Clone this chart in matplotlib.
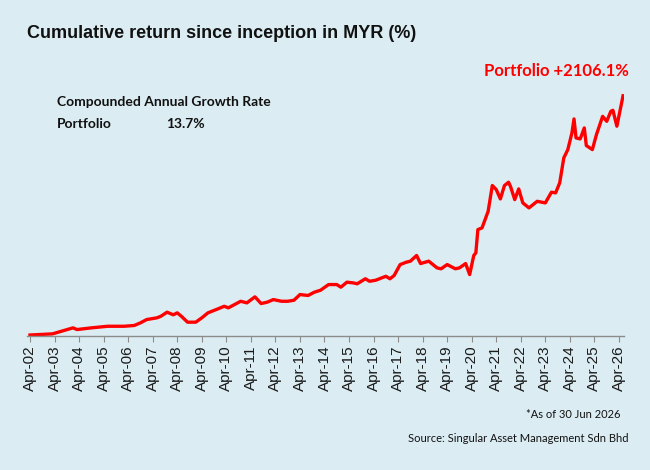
import matplotlib
matplotlib.use("Agg")
import matplotlib.pyplot as plt
import pandas as pd

months = ["2002-04", "2003-03", "2004-01", "2004-03", "2004-10", "2005-06", "2006-02", "2006-07",
          "2006-10", "2007-01", "2007-06", "2007-08", "2007-11", "2008-02", "2008-04", "2008-06",
          "2008-09", "2009-01", "2009-04", "2009-07", "2009-12", "2010-03", "2010-05", "2010-08",
          "2010-11", "2011-02", "2011-06", "2011-09", "2011-12", "2012-03", "2012-07", "2012-10",
          "2013-01", "2013-04", "2013-08", "2013-11", "2014-02", "2014-06", "2014-10", "2014-12",
          "2015-03", "2015-06", "2015-08", "2015-12", "2016-02", "2016-05", "2016-10", "2016-12",
          "2017-02", "2017-05", "2017-08", "2017-10", "2018-01", "2018-03", "2018-07", "2018-11",
          "2019-01", "2019-04", "2019-08", "2019-10", "2020-01", "2020-03", "2020-05", "2020-06",
          "2020-07", "2020-09", "2020-12", "2021-02", "2021-04", "2021-06", "2021-08", "2021-10",
          "2021-11", "2022-01", "2022-03", "2022-05", "2022-08", "2022-12", "2023-04", "2023-07",
          "2023-09", "2023-11", "2024-01", "2024-03", "2024-05", "2024-06", "2024-07", "2024-09",
          "2024-11", "2024-12", "2025-03", "2025-05", "2025-08", "2025-10", "2025-12", "2026-01",
          "2026-03", "2026-06"]
portfolio = [0, 10, 63, 48, 63, 77, 77, 84,
             107, 136, 151, 165, 201, 178, 195, 165,
             113, 113, 151, 195, 231, 253, 239, 268,
             297, 283, 336, 277, 289, 312, 297, 297,
             306, 356, 348, 377, 394, 444, 444, 421,
             465, 459, 451, 495, 473, 482, 517, 495,
             524, 620, 641, 650, 700, 629, 650, 591,
             583, 620, 583, 591, 629, 532, 700, 723,
             928, 943, 1089, 1316, 1280, 1198, 1316, 1345,
             1304, 1192, 1286, 1163, 1119, 1177, 1163, 1257,
             1251, 1339, 1559, 1632, 1779, 1902, 1735, 1726,
             1823, 1668, 1632, 1764, 1925, 1881, 1969, 1978,
             1838, 2106.1]
tick_years = list(range(2002, 2027))
tick_labels = [f"Apr-{y % 100:02d}" for y in tick_years]

title = "Cumulative return since inception in MYR (%)"
end_label = "Portfolio +2106.1%"
cagr_head = "Compounded Annual Growth Rate"
cagr_name = "Portfolio"
cagr_value = "13.7%"
note = "*As of 30 Jun 2026"
source = "Source: Singular Asset Management Sdn Bhd"

bg = "#DBEDF3"
dates = pd.to_datetime(months, format="%Y-%m")

fig = plt.figure(figsize=(6.5, 4.7), dpi=100, facecolor=bg)
ax = fig.add_axes([0.042, 0.286, 0.918, 0.586], facecolor=bg)
ax.plot(dates, portfolio, color="#FF0000", lw=2.4, solid_joinstyle="round")

ax.set_xlim(pd.Timestamp("2002-02-20"), pd.Timestamp("2026-06-15"))
px_per = 8.8
ax.set_ylim(-5, (335.5 - 60) * px_per - 5)

ticks = [pd.Timestamp(f"{y}-04-01") for y in tick_years]
ax.set_xticks(ticks)
ax.set_xticklabels(tick_labels, rotation=90, fontsize=11, family="Liberation Sans", color="#1A1A1A")
ax.tick_params(axis="x", length=4, color="#8C8C8C", pad=3)
ax.set_yticks([])
for s in ["top", "right", "left"]:
    ax.spines[s].set_visible(False)
ax.spines["bottom"].set_color("#8C8C8C")
ax.spines["bottom"].set_linewidth(1.0)

fig.text(27 / 650, 1 - 33 / 470, title, fontsize=13, fontweight="bold",
         family="Liberation Sans", va="center", ha="left", color="#111111")
fig.text(629 / 650, 1 - 71 / 470, end_label, fontsize=12, fontweight="bold",
         family="Lato", va="center", ha="right", color="#FF0000")
fig.text(57 / 650, 1 - 102 / 470, cagr_head, fontsize=10, fontweight="bold",
         family="Lato", va="center", ha="left", color="#111111")
fig.text(57 / 650, 1 - 124 / 470, cagr_name, fontsize=10, fontweight="bold",
         family="Lato", va="center", ha="left", color="#111111")
fig.text(166 / 650, 1 - 124 / 470, cagr_value, fontsize=10, fontweight="bold",
         family="Lato", va="center", ha="left", color="#111111")
fig.text(620 / 650, 1 - 414 / 470, note, fontsize=8, family="Lato",
         va="center", ha="right", color="#111111")
fig.text(628 / 650, 1 - 438 / 470, source, fontsize=8, family="Lato",
         va="center", ha="right", color="#111111")

fig.savefig("out.png", dpi=100, facecolor=bg)
